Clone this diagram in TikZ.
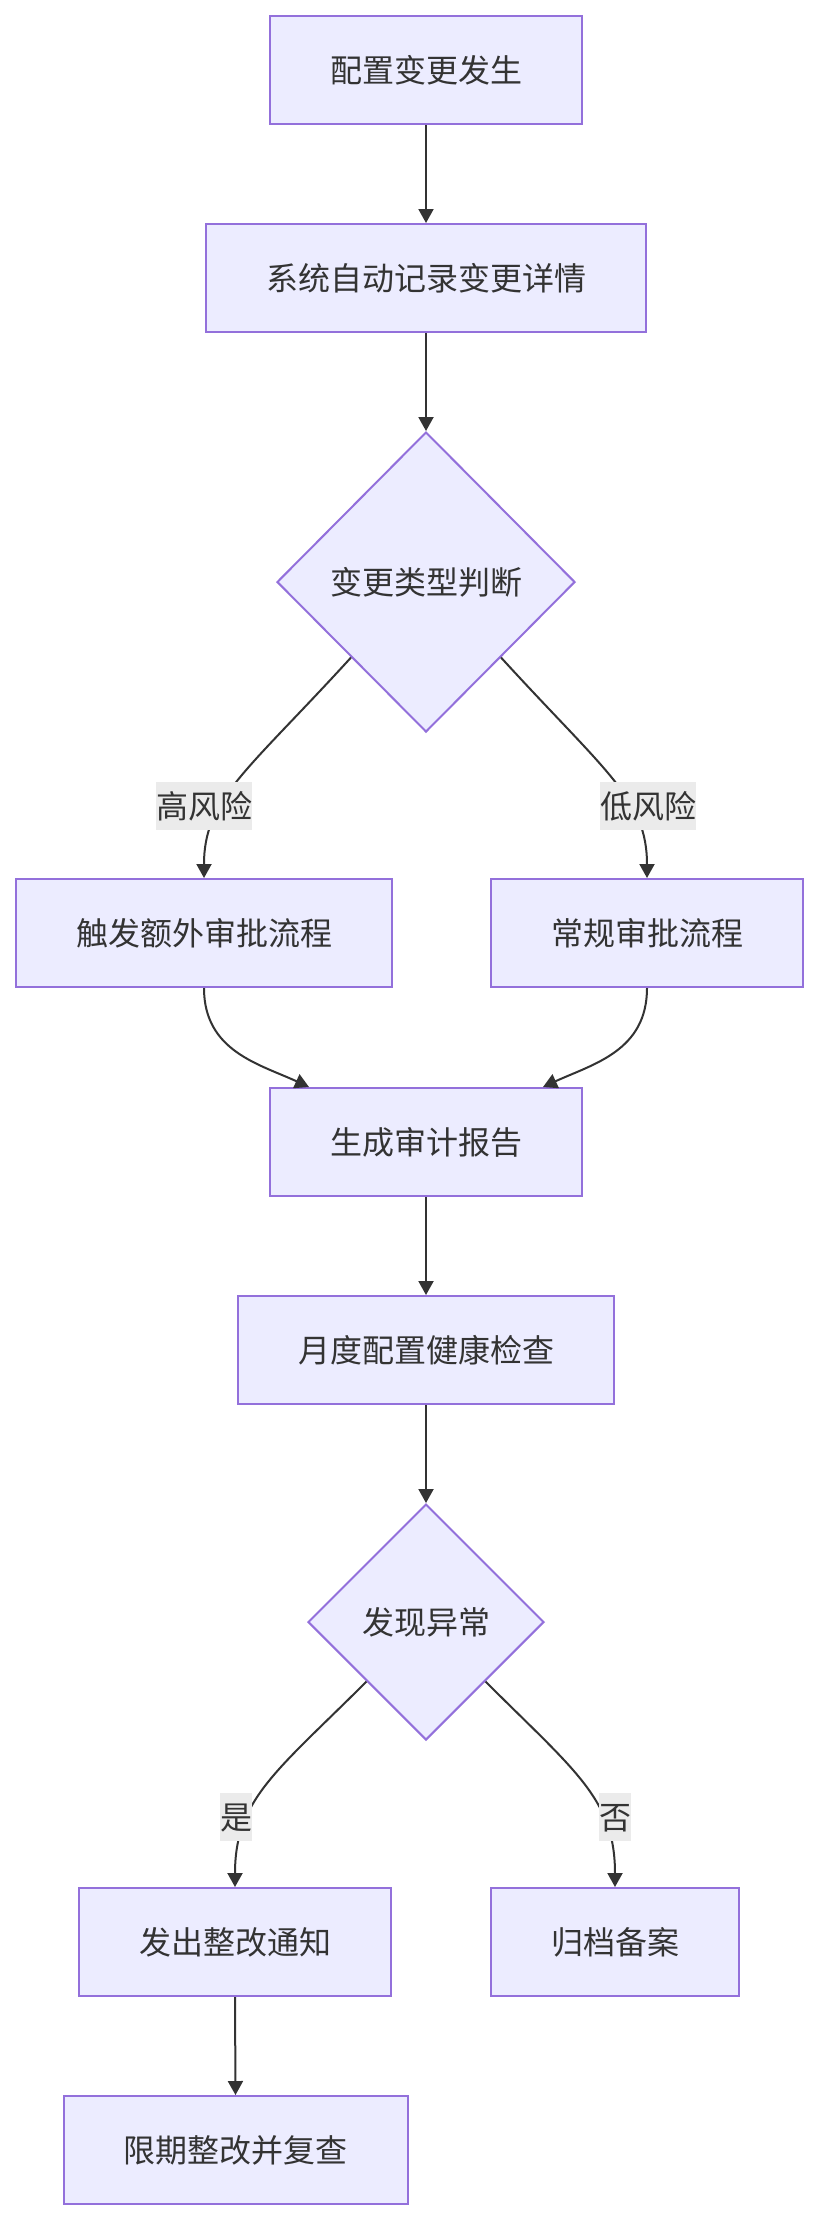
\documentclass[tikz,border=0pt]{standalone}
\usepackage{fontspec}
\setmainfont{Noto Sans CJK SC}
\usetikzlibrary{shapes.geometric,arrows.meta,calc}
\definecolor{nodefill}{HTML}{ECECFF}
\definecolor{nodeline}{HTML}{9370DB}
\definecolor{edgecol}{HTML}{333333}
\definecolor{lblfill}{HTML}{EBEBEB}
\begin{document}
\begin{tikzpicture}[x=1pt,y=-1pt,
  txt/.style={text=edgecol, font=\fontsize{32}{38}\selectfont, text height=28pt, text depth=3.6pt},
  box/.style={txt, draw=nodeline, fill=nodefill, line width=2pt, minimum height=108pt, inner sep=0pt},
  dia/.style={txt, diamond, draw=nodeline, fill=nodefill, line width=2pt, inner sep=0pt},
  lbl/.style={txt, fill=lblfill, inner sep=0pt, minimum height=48pt},
  arr/.style={draw=edgecol, line width=2pt, -{Triangle[length=14pt,width=15pt]}}]
\path[use as bounding box, fill=white] (0,0) rectangle (820,2220);

\node[box, minimum width=312pt] (n1) at (426,70) {配置变更发生};
\node[box, minimum width=440pt] (n2) at (426,278) {系统自动记录变更详情};
\node[dia, minimum width=298pt, minimum height=300pt] (d1) at (426,582) {变更类型判断};
\node[box, minimum width=376pt] (n3) at (204,933) {触发额外审批流程};
\node[box, minimum width=312pt] (n4) at (647,933) {常规审批流程};
\node[box, minimum width=312pt] (n5) at (426,1142) {生成审计报告};
\node[box, minimum width=376pt] (n6) at (426,1350) {月度配置健康检查};
\node[dia, minimum width=236pt, minimum height=236pt] (d2) at (426,1622) {发现异常};
\node[box, minimum width=312pt] (n7) at (235,1942) {发出整改通知};
\node[box, minimum width=248pt] (n8) at (615,1942) {归档备案};
\node[box, minimum width=344pt] (n9) at (235.5,2150) {限期整改并复查};

\draw[arr] (n1.south) -- (n2.north);
\draw[arr] (n2.south) -- (d1.north);
\draw[arr] (d1.south west) .. controls +(-105,115) and +(0,-79) .. (n3.north);
\draw[arr] (d1.south east) .. controls +(105,115) and +(0,-79) .. (n4.north);
\draw[arr] (n3.south) .. controls +(0,63) and +(-50,-23) .. ([xshift=40pt]n5.north west);
\draw[arr] (n4.south) .. controls +(0,63) and +(50,-23) .. ([xshift=-40pt]n5.north east);
\draw[arr] (n5.south) -- (n6.north);
\draw[arr] (n6.south) -- (d2.north);
\draw[arr] (d2.south west) .. controls +(-90,90) and +(0,-88) .. (n7.north);
\draw[arr] (d2.south east) .. controls +(90,90) and +(0,-88) .. (n8.north);
\draw[arr] (n7.south) -- (n9.north);

\node[lbl] (l1) at (204,806) {高风险};
\node[lbl] (l2) at (648,806) {低风险};
\node[lbl] (l3) at (236,1817) {是};
\node[lbl] (l4) at (615,1817) {否};
\end{tikzpicture}
\end{document}
